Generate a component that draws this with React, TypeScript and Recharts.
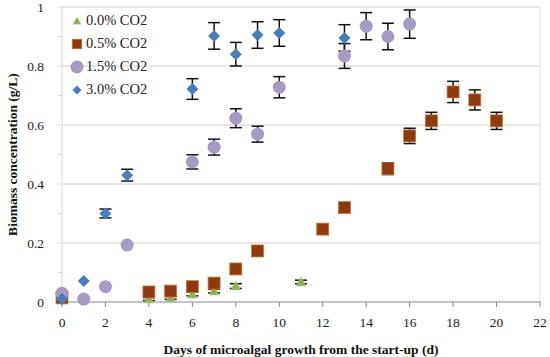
import React from 'react';
import {
  ScatterChart, Scatter, XAxis, YAxis, ErrorBar, ReferenceLine, Label,
} from 'recharts';

const xTicks = [0, 2, 4, 6, 8, 10, 12, 14, 16, 18, 20, 22];
const yTicks = [0, 0.1, 0.2, 0.3, 0.4, 0.5, 0.6, 0.7, 0.8, 0.9, 1];
const gridValues = [0.2, 0.4, 0.6, 0.8, 1];

const days00 = [0, 4, 5, 6, 7, 8, 11];
const co2_00 = [0.01, 0.01, 0.014, 0.027, 0.037, 0.054, 0.068];
const err_00 = [0.004, 0.005, 0.005, 0.006, 0.006, 0.008, 0.006];

const days05 = [0, 4, 5, 6, 7, 8, 9, 12, 13, 15, 16, 17, 18, 19, 20];
const co2_05 = [0.014, 0.034, 0.037, 0.052, 0.064, 0.112, 0.173, 0.247, 0.32, 0.452, 0.563, 0.614, 0.712, 0.685, 0.614];
const err_05 = [0, 0, 0, 0, 0, 0, 0, 0, 0, 0.02, 0.026, 0.029, 0.036, 0.034, 0.029];

const days15 = [0, 1, 2, 3, 6, 7, 8, 9, 10, 13, 14, 15, 16];
const co2_15 = [0.03, 0.01, 0.052, 0.193, 0.475, 0.525, 0.623, 0.569, 0.728, 0.834, 0.935, 0.9, 0.942];
const err_15 = [0, 0, 0, 0, 0.024, 0.027, 0.032, 0.027, 0.036, 0.042, 0.046, 0.045, 0.048];

const days30 = [0, 1, 2, 3, 6, 7, 8, 9, 10, 13];
const co2_30 = [0.01, 0.071, 0.3, 0.43, 0.722, 0.902, 0.84, 0.905, 0.912, 0.895];
const err_30 = [0, 0, 0.015, 0.02, 0.035, 0.045, 0.04, 0.045, 0.045, 0.045];

const FONT = '"Liberation Serif", serif';

const toPoints = (days: number[], vals: number[], errs: number[]) =>
  days.map((d, i) => ({ day: d, value: vals[i], err: errs[i] }));

type ShapeProps = { cx?: number; cy?: number };

function Triangle({ cx = 0, cy = 0 }: ShapeProps) {
  return <polygon points={`${cx},${cy - 5} ${cx + 5},${cy + 4} ${cx - 5},${cy + 4}`} fill="#8DB255" stroke="#B4CC88" strokeWidth={0.5} />;
}
function Square({ cx = 0, cy = 0 }: ShapeProps) {
  return <rect x={cx - 6} y={cy - 6} width={12} height={12} fill="#8E3A0C" stroke="#C8773D" strokeWidth={0.8} />;
}
function Circle({ cx = 0, cy = 0 }: ShapeProps) {
  return <circle cx={cx} cy={cy} r={6.5} fill="#A89BC2" />;
}
function Diamond({ cx = 0, cy = 0 }: ShapeProps) {
  return <polygon points={`${cx},${cy - 6} ${cx + 6},${cy} ${cx},${cy + 6} ${cx - 6},${cy}`} fill="#4A7EBB" />;
}

const series = [
  { name: '0.0% CO2', data: toPoints(days00, co2_00, err_00), Shape: Triangle, icon: 0.8 },
  { name: '0.5% CO2', data: toPoints(days05, co2_05, err_05), Shape: Square, icon: 0.8 },
  { name: '1.5% CO2', data: toPoints(days15, co2_15, err_15), Shape: Circle, icon: 1 },
  { name: '3.0% CO2', data: toPoints(days30, co2_30, err_30), Shape: Diamond, icon: 0.75 },
];

function LegendBox() {
  return (
    <div style={{ position: 'absolute', left: 69, top: 9, fontFamily: FONT, fontSize: 14.5, color: '#222', lineHeight: '23px' }}>
      {series.map(s => (
        <div key={s.name} style={{ display: 'flex', alignItems: 'center', height: 23 }}>
          <svg width={16} height={16} style={{ marginRight: 1 }}>
            <g transform={`translate(8 8) scale(${s.icon})`}>
              <s.Shape cx={0} cy={0} />
            </g>
          </svg>
          <span>{s.name}</span>
        </div>
      ))}
    </div>
  );
}

function YTick({ x, y, payload }: { x?: number; y?: number; payload?: { value: number } }) {
  const v = payload?.value ?? 0;
  if (Math.round(v * 10) % 2 !== 0) return null;
  return (
    <text x={x} y={y} dy={4.5} textAnchor="end" fontFamily={FONT} fontSize={13.5} fill="#222">
      {Number(v.toFixed(1)).toString()}
    </text>
  );
}

export default function App() {
  return (
    <div style={{ position: 'absolute', left: 0, top: 0, width: 550, height: 357, background: '#fff' }}>
      <ScatterChart width={550} height={357} margin={{ top: 7, right: 10, bottom: 0, left: 18 }}>
        {gridValues.map(v => (
          <ReferenceLine key={v} y={v} stroke="#D0D0D0" strokeWidth={1} />
        ))}
        <ReferenceLine x={22} stroke="#E0E0E0" strokeWidth={1} />
        <XAxis
          type="number"
          dataKey="day"
          domain={[0, 22]}
          ticks={xTicks}
          interval={0}
          height={55}
          stroke="#888"
          tickSize={5}
          tickMargin={10}
          tick={{ fontFamily: FONT, fontSize: 13.5, fill: '#222' }}
        >
          <Label
            value="Days of microalgal growth from the start-up (d)"
            position="insideBottom"
            offset={3}
            style={{ fontFamily: FONT, fontSize: 13.5, fontWeight: 'bold', fill: '#111' }}
          />
        </XAxis>
        <YAxis
          type="number"
          dataKey="value"
          domain={[0, 1]}
          ticks={yTicks}
          interval={0}
          width={44}
          stroke="#D9D9D9"
          tickSize={4}
          tickMargin={14}
          tick={<YTick />}
        >
          <Label
            value="Biomass concentration (g/L)"
            angle={-90}
            position="insideLeft"
            offset={-6}
            style={{ fontFamily: FONT, fontSize: 13.5, fontWeight: 'bold', fill: '#111', textAnchor: 'middle' }}
          />
        </YAxis>
        {series.map(s => (
          <Scatter
            key={s.name}
            name={s.name}
            data={s.data}
            shape={<s.Shape />}
            isAnimationActive={false}
          >
            <ErrorBar dataKey="err" direction="y" width={6} stroke="#111" strokeWidth={1.5} />
          </Scatter>
        ))}
      </ScatterChart>
      <LegendBox />
    </div>
  );
}
